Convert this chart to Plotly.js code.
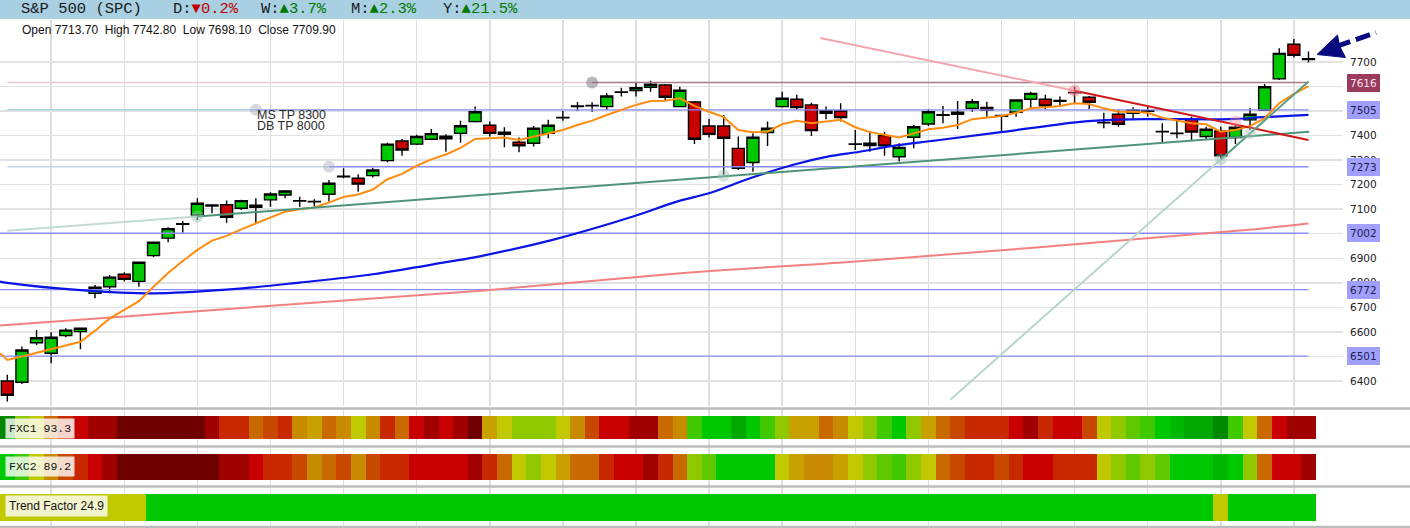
<!DOCTYPE html>
<html><head><meta charset="utf-8">
<script src="https://cdn.plot.ly/plotly-3.0.1.min.js"></script>
<style>html,body{margin:0;padding:0;background:#fff;overflow:hidden}#chart{width:1410px;height:528px}</style>
</head><body><div id="chart"></div>
<script>
// ---------------- DATA ----------------
const openP  = [6400,6395,6556,6513,6585,6601,6757,6784,6835,6806,6911,6982,7038,7076,7117,7118,7104,7116,7138,7158,7133,7130,7161,7232,7226,7237,7298,7378,7365,7385,7387,7409,7457,7442,7414,7373,7369,7409,7472,7518,7521,7518,7576,7583,7597,7606,7518,7537,7439,7439,7348,7290,7412,7518,7548,7525,7491,7500,7364,7369,7400,7314,7393,7447,7483,7495,7511,7515,7482,7495,7548,7548,7540,7574,7556,7452,7487,7491,7499,7415,7408,7467,7396,7419,7392,7464,7504,7631,7772,7713.70];
const highP  = [6425,6540,6608,6599,6615,6617,6791,6832,6843,6885,6966,7026,7052,7145,7119,7135,7138,7145,7169,7178,7151,7141,7219,7267,7242,7269,7371,7386,7403,7427,7405,7460,7518,7457,7434,7392,7439,7464,7500,7537,7536,7572,7595,7617,7623,7610,7599,7541,7468,7484,7396,7409,7457,7579,7566,7534,7518,7532,7423,7419,7416,7369,7443,7507,7521,7541,7549,7538,7484,7548,7579,7566,7559,7599,7561,7493,7504,7515,7521,7450,7460,7477,7436,7436,7443,7511,7610,7756,7794,7742.80];
const lowP   = [6316,6388,6547,6472,6578,6529,6737,6757,6805,6784,6904,6965,7004,7056,7083,7045,7097,7043,7110,7145,7110,7110,7131,7226,7171,7229,7291,7318,7362,7382,7334,7371,7453,7396,7352,7332,7355,7389,7460,7500,7497,7504,7559,7559,7579,7545,7515,7366,7392,7240,7260,7253,7358,7514,7504,7398,7467,7457,7341,7334,7318,7294,7348,7439,7450,7427,7497,7477,7419,7477,7511,7507,7521,7532,7507,7430,7436,7464,7477,7371,7389,7379,7382,7308,7366,7423,7501,7627,7718,7698.10];
const closeP = [6342,6526,6576,6578,6607,6615,6782,6823,6814,6884,6965,7021,7041,7124,7113,7067,7135,7108,7162,7174,7135,7132,7206,7234,7202,7260,7365,7341,7396,7408,7397,7440,7497,7409,7405,7358,7430,7442,7474,7521,7523,7561,7578,7595,7609,7556,7585,7385,7405,7389,7267,7393,7430,7552,7514,7420,7500,7473,7366,7359,7358,7352,7436,7497,7485,7487,7538,7504,7479,7545,7572,7521,7543,7576,7536,7454,7446,7504,7501,7417,7410,7414,7426,7318,7434,7487,7599,7735,7727,7709.90];

// moving averages (candle index -> value)
const fastIdx = [-0.5,0,1,2,3,4,5,6,7,8,9,10,11,12,13,14,15,16,17,18,19,20,21,22,23,24,25,26,27,28,29,30,31,32,33,34,35,36,37,38,39,40,41,42,43,44,45,46,47,48,49,50,51,52,53,54,55,56,57,58,59,60,61,62,63,64,65,66,67,68,69,70,71,72,73,74,75,76,77,78,79,80,81,82,83,84,85,86,87,88,89];
const fastVal = [6513,6486,6500,6515,6527,6543,6560,6605,6655,6690,6725,6784,6840,6889,6934,6972,6991,7018,7041,7066,7090,7100,7107,7127,7150,7160,7180,7222,7244,7277,7303,7323,7350,7386,7389,7392,7382,7396,7407,7423,7443,7461,7484,7504,7525,7541,7542,7552,7521,7497,7475,7423,7414,7416,7446,7460,7450,7457,7464,7434,7414,7403,7392,7409,7426,7432,7443,7467,7475,7480,7493,7511,7515,7521,7532,7529,7511,7497,7497,7493,7473,7461,7450,7446,7416,7423,7439,7471,7532,7570,7602];
const midIdx  = [-0.5,0,5,10,15,20,25,30,32.4,37.3,42.8,45.8,48.1,50.8,53.7,56.1,58.3,60.6,63.5,67.7,72.9,74.5,77.9,83.6,85.9,89];
const midVal  = [6805,6800,6770,6757,6772,6801,6835,6884,6909,6975,7070,7131,7167,7226,7280,7314,7334,7358,7380,7412,7453,7461,7467,7467,7475,7484];
const slowIdx = [-0.5,32.4,47.4,58.3,84.3,89];
const slowVal = [6626,6768,6845,6888,7013,7042];

// horizontal levels
const levelVals  = [7616,7505,7273,7002,6772,6501];
const levelFrom  = [40,17,22,-0.5,-0.5,-0.5];

// drawn trend lines: faint start, anchor, end
const tlStartIdx  = [0,55.6,64.5];
const tlStartVal  = [7012,7798,6323];
const tlAnchorIdx = [13,73,83];
const tlAnchorVal = [7070,7583,7303];
const tlEndIdx    = [89.05,89,89];
const tlEndVal    = [7416,7382,7620];

// anchor dots
const dotIdx = [17,22,13,40,49,73,83,85,84];
const dotVal = [7505,7273,7070,7616,7236,7583,7303,7409,7457];

// notes
const noteLines = ['MS TP 8300','DB TP 8000'];
const noteVals  = [7482,7441];

// header
const symbolName = 'S&amp;P 500 (SPC)';
const periodNames = ['D:','W:','M:','Y:'];
const periodChanges = [-0.2,3.7,2.3,21.5];

// strips (palette level per candle)
const palette = ['#700000','#a00000','#c80000','#c82800','#c84800','#c86a00','#c88a00','#c8a000','#c0c800','#90c800','#60c800','#40c800','#00c800','#00b800','#00a800','#008800'];
const fxc1 = [15,9,8,5,3,2,1,1,0,0,0,0,0,0,1,3,3,5,4,3,6,7,5,6,8,6,3,5,2,1,2,1,0,7,8,9,9,9,8,6,4,2,2,1,1,5,6,11,12,12,14,12,11,9,7,7,5,6,8,9,11,12,9,7,5,4,3,3,3,2,1,3,2,2,4,8,9,10,11,12,13,14,14,15,11,8,5,2,1,1];
const fxc2 = [12,11,8,6,4,3,2,1,0,0,0,0,0,0,0,1,1,2,3,3,4,6,5,4,6,4,3,3,2,2,2,2,1,3,5,8,9,8,7,5,5,3,2,2,1,3,5,9,10,12,12,12,12,8,7,6,6,7,8,9,10,11,9,8,5,4,3,3,4,3,2,2,3,3,3,8,9,10,9,10,12,12,12,13,12,9,5,2,2,1];
const trendF = [8,8,8,8,8,8,8,8,8,8,12,12,12,12,12,12,12,12,12,12,12,12,12,12,12,12,12,12,12,12,12,12,12,12,12,12,12,12,12,12,12,12,12,12,12,12,12,12,12,12,12,12,12,12,12,12,12,12,12,12,12,12,12,12,12,12,12,12,12,12,12,12,12,12,12,12,12,12,12,12,12,12,12,8,12,12,12,12,12,12];
const stripNames  = ['FXC1','FXC2','Trend Factor'];
const stripScores = [93.3,89.2,24.9];

const yTicks = [6400,6500,6600,6700,6800,6900,7000,7100,7200,7300,7400,7500,7600,7700];
// labels fully hidden behind level boxes in the reference are left blank
const yTickText = ['6400','','6600','6700','6800','6900','','7100','7200','7300','7400','','7600','7700'];

// ---------------- LAYOUT HELPERS ----------------
const W=1410,H=528;
const px = x => x/W;
const py = y => (H-y)/H;
const days = openP.map((_,i)=>i);
const last = openP.length-1;

const traces = [];
// level lines (under candles)
const levelFaint = ['#e4ccd2','#aad4e6','#c4d8e8'];
levelVals.forEach((v,k)=>{
  if (levelFrom[k] > 0) {
    traces.push({type:'scatter',mode:'lines',x:[0,levelFrom[k]],y:[v,v],line:{color:levelFaint[k],width:1.5},hoverinfo:'skip'});
  }
  traces.push({type:'scatter',mode:'lines',x:[levelFrom[k],last],y:[v,v],
    line:{color:k===0?'#a87a8a':'#8a8cff',width:k===0?1.6:1.3},hoverinfo:'skip'});
});

traces.push({type:'candlestick',x:days,open:openP,high:highP,low:lowP,close:closeP,
  increasing:{fillcolor:'#00c800',line:{color:'#000',width:1.4}},
  decreasing:{fillcolor:'#c80000',line:{color:'#000',width:1.4}},
  whiskerwidth:0,hoverinfo:'skip'});

// moving averages
traces.push({type:'scatter',mode:'lines',x:slowIdx,y:slowVal,line:{color:'#f28080',width:2,shape:'spline'},hoverinfo:'skip'});
traces.push({type:'scatter',mode:'lines',x:midIdx,y:midVal,line:{color:'#0a14e6',width:2.2,shape:'spline'},hoverinfo:'skip'});
traces.push({type:'scatter',mode:'lines',x:fastIdx,y:fastVal,line:{color:'#ff8c10',width:2},hoverinfo:'skip'});

// trend lines
const tlFaint = ['#c4dccf','#f4a6b0','#b8d6cc'];
const tlSolid = ['#4e9478','#d01818','#5a9c86'];
tlStartIdx.forEach((_,k)=>{
  traces.push({type:'scatter',mode:'lines',x:[tlStartIdx[k],tlAnchorIdx[k]],y:[tlStartVal[k],tlAnchorVal[k]],line:{color:tlFaint[k],width:2},hoverinfo:'skip'});
  traces.push({type:'scatter',mode:'lines',x:[tlAnchorIdx[k],tlEndIdx[k]],y:[tlAnchorVal[k],tlEndVal[k]],line:{color:tlSolid[k],width:2},hoverinfo:'skip'});
});

// anchor dots
const dotColors = ['rgba(170,170,190,0.45)','rgba(170,170,190,0.45)','rgba(150,195,175,0.45)','rgba(120,110,130,0.5)','rgba(150,195,175,0.45)','rgba(250,120,140,0.5)','rgba(150,195,175,0.45)','rgba(170,200,185,0.45)','rgba(250,140,160,0.4)'];
traces.push({type:'scatter',mode:'markers',x:dotIdx,y:dotVal,marker:{size:12,color:dotColors,line:{width:0}},hoverinfo:'skip'});

// strips
const stripData = [fxc1,fxc2,trendF];
const stripAxes = ['y2','y3','y4'];
stripData.forEach((arr,k)=>{
  traces.push({type:'bar',x:days,y:arr.map(()=>1),width:1,xaxis:'x',yaxis:stripAxes[k],
    marker:{color:arr.map(c=>palette[c]),line:{width:0}},hoverinfo:'skip'});
});

// ---------------- ANNOTATIONS ----------------
const ann = [];
ann.push({xref:'paper',yref:'paper',x:px(19),y:py(9.5),xanchor:'left',yanchor:'middle',showarrow:false,
  text:symbolName,font:{family:'Liberation Mono, monospace',size:15.5,color:'#1a1a1a'}});
const periodX = [170.5,259,349,441];
periodNames.forEach((n,k)=>{
  const c = periodChanges[k];
  const up = c>=0;
  const txt = n+'<span style="color:'+(up?'#007800':'#c00000')+'">'+(up?'▲':'▼')+Math.abs(c).toFixed(1)+'%</span>';
  ann.push({xref:'paper',yref:'paper',x:px(periodX[k]),y:py(9.5),xanchor:'left',yanchor:'middle',showarrow:false,
    text:txt,font:{family:'Liberation Mono, monospace',size:15.5,color:'#1a1a1a'}});
});
const sp='\u00a0\u00a0';
ann.push({xref:'paper',yref:'paper',x:px(19.5),y:py(30.5),xanchor:'left',yanchor:'middle',showarrow:false,
  text:'Open '+openP[last].toFixed(2)+sp+'High '+highP[last].toFixed(2)+sp+'Low '+lowP[last].toFixed(2)+sp+'Close '+closeP[last].toFixed(2),
  font:{family:'Liberation Sans, Arial, sans-serif',size:12,color:'#111'}});

noteLines.forEach((t,k)=>{
  ann.push({xref:'x',yref:'y',x:17,y:noteVals[k],xanchor:'left',yanchor:'middle',xshift:-1,showarrow:false,
    text:t,font:{family:'Liberation Sans, Arial, sans-serif',size:12.5,color:'#2a2a2a'}});
});

levelVals.forEach((v,k)=>{
  ann.push({xref:'paper',yref:'y',x:px(1347),y:v,xanchor:'left',yanchor:'middle',showarrow:false,
    text:String(v),bgcolor:k===0?'#9a3a5c':'#a0a0fc',bordercolor:k===0?'#9a3a5c':'#a0a0fc',borderwidth:1,borderpad:2,
    font:{family:'DejaVu Sans, sans-serif',size:10.5,color:k===0?'#f2e4ea':'#1c1c50'}});
});

const stripLabelY = [428,466,506];
stripNames.forEach((n,k)=>{
  ann.push({xref:'paper',yref:'paper',x:px(5),y:py(stripLabelY[k]),xanchor:'left',yanchor:'middle',showarrow:false,
    text:n+' '+stripScores[k].toFixed(1),bgcolor:'rgba(255,255,255,0.8)',borderpad:3,
    font:k<2?{family:'Liberation Mono, monospace',size:11.5,color:'#111'}:{family:'Liberation Sans, Arial, sans-serif',size:12,color:'#111'}});
});

// ---------------- SHAPES ----------------
const shapes = [];
shapes.push({type:'rect',xref:'paper',yref:'paper',x0:0,x1:1,y0:py(19),y1:1,fillcolor:'#a9d0e2',line:{width:0},layer:'below'});
[408.5,446.5,486.5,527].forEach(y=>{
  shapes.push({type:'line',xref:'paper',yref:'paper',x0:0,x1:1,y0:py(y),y1:py(y),line:{color:'#bcbcbc',width:2.5}});
});
// arrow
shapes.push({type:'line',xref:'paper',yref:'paper',x0:px(1336),y0:py(46.5),x1:px(1376),y1:py(32.5),line:{color:'#0a0a80',width:5,dash:'15px,6px'}});
shapes.push({type:'path',xref:'paper',yref:'paper',
  path:'M '+px(1317)+' '+py(54.5)+' L '+px(1337.5)+' '+py(35)+' L '+px(1339.5)+' '+py(46)+' L '+px(1345.5)+' '+py(57.5)+' Z',
  fillcolor:'#0a0a80',line:{color:'#0a0a80',width:1}});

const layout = {
  width:W,height:H,margin:{l:0,r:0,t:0,b:0},paper_bgcolor:'#fff',plot_bgcolor:'#fff',
  showlegend:false,hovermode:false,dragmode:false,bargap:0,boxgap:0.18,boxgroupgap:0,
  xaxis:{domain:[0,1343/W],range:[-0.5,91.36],tick0:3,dtick:5,showticklabels:false,ticks:'',
    showgrid:true,gridcolor:'#dedede',gridwidth:1.5,zeroline:false,rangeslider:{visible:false},fixedrange:true},
  yaxis:{domain:[py(406),py(20)],range:[6298,7871],side:'right',anchor:'x',tickvals:yTicks,ticktext:yTickText,ticks:'',
    ticklabelstandoff:6,tickfont:{family:'DejaVu Sans, sans-serif',size:10.5,color:'#222'},
    showgrid:true,gridcolor:'#e2e2e2',gridwidth:1.5,zeroline:false,fixedrange:true},
  yaxis2:{domain:[py(446.5),py(408.5)],range:[-7.5/24,1+7.5/24],showticklabels:false,showgrid:false,zeroline:false,anchor:'x',fixedrange:true},
  yaxis3:{domain:[py(486.5),py(446.5)],range:[-6.5/26,1+7.5/26],showticklabels:false,showgrid:false,zeroline:false,anchor:'x',fixedrange:true},
  yaxis4:{domain:[py(527),py(486.5)],range:[-6/27,1+7.5/27],showticklabels:false,showgrid:false,zeroline:false,anchor:'x',fixedrange:true},
  annotations:ann,shapes:shapes
};
Plotly.newPlot('chart',traces,layout,{staticPlot:true,displayModeBar:false});
</script></body></html>
